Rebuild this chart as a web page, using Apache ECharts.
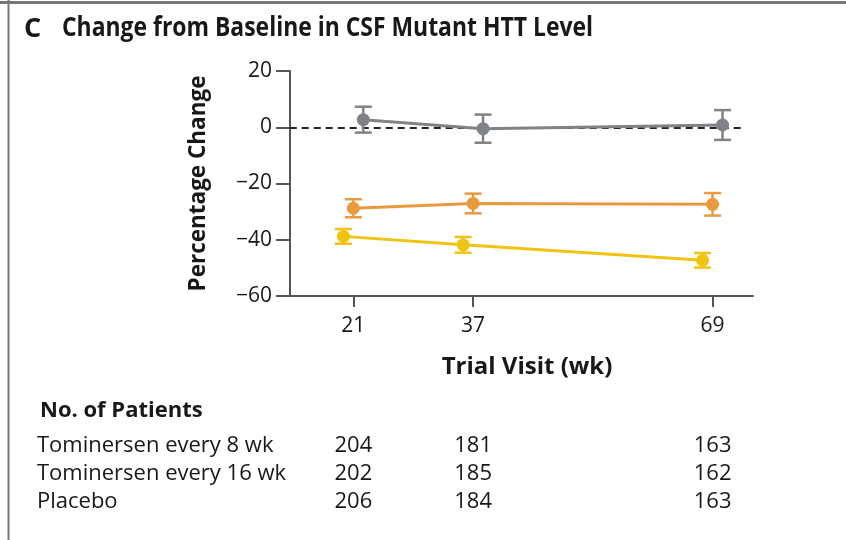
<!DOCTYPE html>
<html><head><meta charset="utf-8">
<script src="https://cdn.jsdelivr.net/npm/echarts@6/dist/echarts.min.js"></script>
<style>html,body{margin:0;padding:0;background:#fff}#c{width:846px;height:540px}</style>
</head><body><div id="c"></div>
<script>
// ---- data ----
const weeks = [21, 37, 69];
const xTickLabels = ['21', '37', '69'];
const yTicks = [20, 0, -20, -40, -60];
const q8Mean = [-38.8, -41.8, -47.3];
const q8Err = [2.6, 2.8, 2.6];
const q16Mean = [-28.8, -27.1, -27.4];
const q16Err = [3.2, 3.5, 4.0];
const placeboMean = [2.7, -0.5, 0.8];
const placeboErr = [4.6, 5.0, 5.3];
const rowLabels = ['Tominersen every 8 wk', 'Tominersen every 16 wk', 'Placebo'];
const q8N = [204, 181, 163];
const q16N = [202, 185, 162];
const placeboN = [206, 184, 163];
const panelLetter = 'C';
const titleText = 'Change from Baseline in CSF Mutant HTT Level';

// ---- style ----
const FONT = '"Open Sans", sans-serif';
const TXT = '#1a1718';
const X_MIN = 11.2, X_MAX = 74.4;
const DODGE = 1.33;
const groups = [
  {name: rowLabels[0], mean: q8Mean, err: q8Err, n: q8N, color: '#f0c30f', dx: -DODGE},
  {name: rowLabels[1], mean: q16Mean, err: q16Err, n: q16N, color: '#e99a3f', dx: 0},
  {name: rowLabels[2], mean: placeboMean, err: placeboErr, n: placeboN, color: '#7f8286', dx: DODGE}
];

// condensed look for title: measure and squeeze horizontally to target width
const TITLE_FONT = 'bold 26px "Open Sans", sans-serif';
const mctx = document.createElement('canvas').getContext('2d');
mctx.font = TITLE_FONT;
const titleScale = 531 / mctx.measureText(titleText).width;

const chart = echarts.init(document.getElementById('c'), null, {renderer: 'canvas'});
const series = [];
groups.forEach((g, gi) => {
  const pts = weeks.map((w, i) => [w + g.dx, g.mean[i], g.err[i]]);
  series.push({
    type: 'custom', xAxisIndex: 0, yAxisIndex: 0, z: 3 + gi,
    data: pts,
    renderItem: function (params, api) {
      const x = api.value(0), y = api.value(1), e = api.value(2);
      const t = api.coord([x, y + e]);
      const b = api.coord([x, y - e]);
      const hw = 8.5;
      const st = {stroke: g.color, lineWidth: 2.5};
      return {type: 'group', children: [
        {type: 'line', shape: {x1: t[0], y1: t[1], x2: b[0], y2: b[1]}, style: st},
        {type: 'line', shape: {x1: t[0] - hw, y1: t[1], x2: t[0] + hw, y2: t[1]}, style: st},
        {type: 'line', shape: {x1: b[0] - hw, y1: b[1], x2: b[0] + hw, y2: b[1]}, style: st}
      ]};
    }
  });
  series.push({
    type: 'line', xAxisIndex: 0, yAxisIndex: 0, z: 3 + gi,
    data: pts.map(p => [p[0], p[1]]),
    symbol: 'circle', symbolSize: 13,
    lineStyle: {color: g.color, width: 3},
    itemStyle: {color: g.color},
    silent: true, animation: false,
    markLine: gi === 0 ? {
      silent: true, symbol: 'none', z: 1,
      lineStyle: {color: '#222', type: [7, 5], width: 1.8},
      label: {show: false},
      data: [[{coord: [12.5, 0]}, {coord: [73.3, 0]}]]
    } : undefined
  });
  // patient count table row
  series.push({
    type: 'scatter', xAxisIndex: 1, yAxisIndex: 1,
    symbolSize: 0, silent: true,
    data: weeks.map((w, i) => [w, g.name, g.n[i]]),
    label: {show: true, position: 'inside', formatter: p => String(p.value[2]),
            fontFamily: FONT, fontSize: 22, color: TXT, opacity: 1},
    emphasis: {disabled: true}
  });
});

chart.setOption({
  animation: false,
  grid: [
    {left: 280, right: 93, top: 71, bottom: 244, containLabel: false},
    {left: 280, right: 93, top: 432, bottom: 24, containLabel: false}
  ],
  xAxis: [
    {type: 'value', gridIndex: 0, min: X_MIN, max: X_MAX,
     axisLine: {show: true, onZero: false, lineStyle: {color: '#555', width: 2}},
     axisTick: {show: true, length: 11, lineStyle: {color: '#555', width: 2},
                customValues: weeks},
     axisLabel: {show: true, customValues: weeks, margin: 20,
                 formatter: v => xTickLabels[weeks.indexOf(v)],
                 fontFamily: FONT, fontSize: 21, color: TXT},
     splitLine: {show: false},
     name: 'Trial Visit (wk)', nameLocation: 'middle', nameGap: 59,
     nameTextStyle: {fontFamily: FONT, fontSize: 24, fontWeight: 'bold', color: TXT,
                     padding: [0, 0, 0, 21]}},
    {type: 'value', gridIndex: 1, min: X_MIN, max: X_MAX, show: false}
  ],
  yAxis: [
    {type: 'value', gridIndex: 0, min: -60, max: 20, interval: 20, offset: -10,
     axisLine: {show: true, lineStyle: {color: '#555', width: 2}},
     axisTick: {show: true, length: 14, lineStyle: {color: '#555', width: 2}},
     axisLabel: {margin: 18, fontFamily: FONT, fontSize: 21, color: TXT,
                 formatter: v => String(v).replace('-', '\u2212')},
     splitLine: {show: false},
     name: 'Percentage Change', nameLocation: 'middle', nameGap: 80,
     nameTextStyle: {fontFamily: FONT, fontSize: 22.5, fontWeight: 'bold', color: TXT}},
    {type: 'category', gridIndex: 1, data: rowLabels, inverse: true,
     axisLine: {show: false}, axisTick: {show: false}, splitLine: {show: false},
     axisLabel: {interval: 0, align: 'left', margin: 243, fontFamily: FONT, fontSize: 22, color: TXT}}
  ],
  graphic: [
    {type: 'line', shape: {x1: 0, y1: 2.5, x2: 846, y2: 2.5}, style: {stroke: '#777', lineWidth: 3}},
    {type: 'line', shape: {x1: 8.5, y1: 0, x2: 8.5, y2: 540}, style: {stroke: '#777', lineWidth: 2}},
    {type: 'text', x: 24, y: 29, style: {text: panelLetter, font: 'bold 27px "Open Sans", sans-serif', fill: TXT, verticalAlign: 'middle'}},
    {type: 'text', x: 62, y: 29, scaleX: titleScale, style: {text: titleText, font: TITLE_FONT, fill: TXT, verticalAlign: 'middle'}},
    {type: 'text', left: 40, top: 400, style: {text: 'No. of Patients', font: 'bold 22px ' + FONT, fill: TXT}}
  ],
  series: series
});
</script></body></html>
